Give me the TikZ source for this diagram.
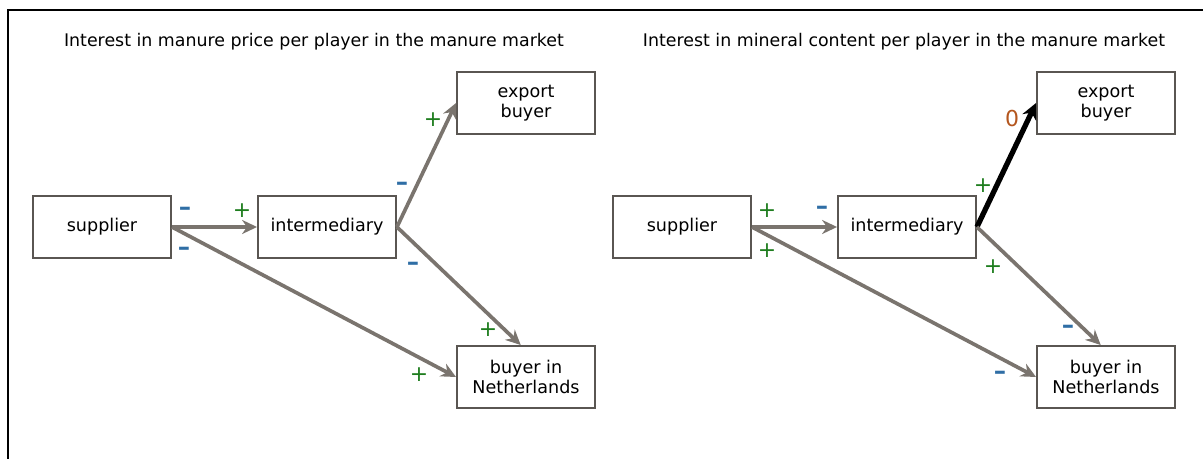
\documentclass[tikz,border=0pt]{standalone}
\usepackage{fontspec}
\setmainfont{DejaVu Sans}
\usetikzlibrary{arrows.meta}
\definecolor{arrowgray}{HTML}{7A746E}
\definecolor{boxgray}{HTML}{5A5652}
\definecolor{minusblue}{HTML}{2F6EA5}
\definecolor{plusgreen}{HTML}{1E7D1E}
\definecolor{zerobrown}{HTML}{B4561E}
\begin{document}
\begin{tikzpicture}[x=0.02cm,y=-0.02cm,
        player/.style={rectangle,draw=boxgray,line width=1.1pt,minimum width=2.76cm,
            minimum height=1.24cm,align=center,font=\fontsize{10}{11.3}\selectfont},
        link/.style={draw=arrowgray,line width=2.1pt,-{Stealth[length=8.5pt,width=8pt]}},
        strong/.style={draw=black,line width=3pt,-{Stealth[length=9pt,width=8.5pt]}},
        plussign/.style={text=plusgreen,inner sep=0pt,font=\fontsize{12.5}{12.5}\selectfont},
        minussign/.style={text=minusblue,inner sep=0pt,font=\fontsize{14}{14}\bfseries\selectfont},
        heading/.style={inner sep=0pt,font=\fontsize{9.9}{12}\selectfont}]
    \useasboundingbox (0,0) rectangle (1203,459);
    \draw[line width=1.2pt] (8,459) -- (8,10) -- (1203,10);

    % price
    \node[heading] (t1) at (314,42) {Interest in manure price per player in the manure market};
    \node[player] (s1) at (102,227) {supplier};
    \node[player] (i1) at (327,227) {intermediary};
    \node[player] (e1) at (526,103) {export\\buyer};
    \node[player] (n1) at (526,377) {buyer in\\Netherlands};

    \draw[link] (s1.east) -- (i1.west);
    \draw[link] (s1.east) -- (n1.west);
    \draw[link] (i1.east) -- (e1.west);
    \draw[link] (i1.east) -- ([xshift=-3]n1.north);

    \node[minussign] (a1) at (185,211) {–};
    \node[minussign] (b1) at (184,251) {–};
    \node[plussign] (c1) at (242,211) {+};
    \node[minussign] (d1) at (402,186) {–};
    \node[plussign] (f1) at (433,120) {+};
    \node[minussign] (g1) at (413,266) {–};
    \node[plussign] (h1) at (488,330) {+};
    \node[plussign] (k1) at (419,375) {+};

    % mineral content
    \node[heading] (t2) at (904,42) {Interest in mineral content per player in the manure market};
    \node[player] (s2) at (682,227) {supplier};
    \node[player] (i2) at (907,227) {intermediary};
    \node[player] (e2) at (1106,103) {export\\buyer};
    \node[player] (n2) at (1106,377) {buyer in\\Netherlands};

    \draw[link] (s2.east) -- (i2.west);
    \draw[link] (s2.east) -- (n2.west);
    \draw[strong] (i2.east) -- (e2.west);
    \draw[link] (i2.east) -- ([xshift=-3]n2.north);

    \node[plussign] (a2) at (767,211) {+};
    \node[plussign] (b2) at (767,251) {+};
    \node[minussign] (c2) at (822,210) {–};
    \node[plussign] (d2) at (983,186) {+};
    \node[text=zerobrown,font=\fontsize{12.5}{12.5}\selectfont,inner sep=0pt] (f2) at (1012,119) {0};
    \node[plussign] (g2) at (993,267) {+};
    \node[minussign] (h2) at (1068,329) {–};
    \node[minussign] (k2) at (1000,375) {–};

\end{tikzpicture}
\end{document}
